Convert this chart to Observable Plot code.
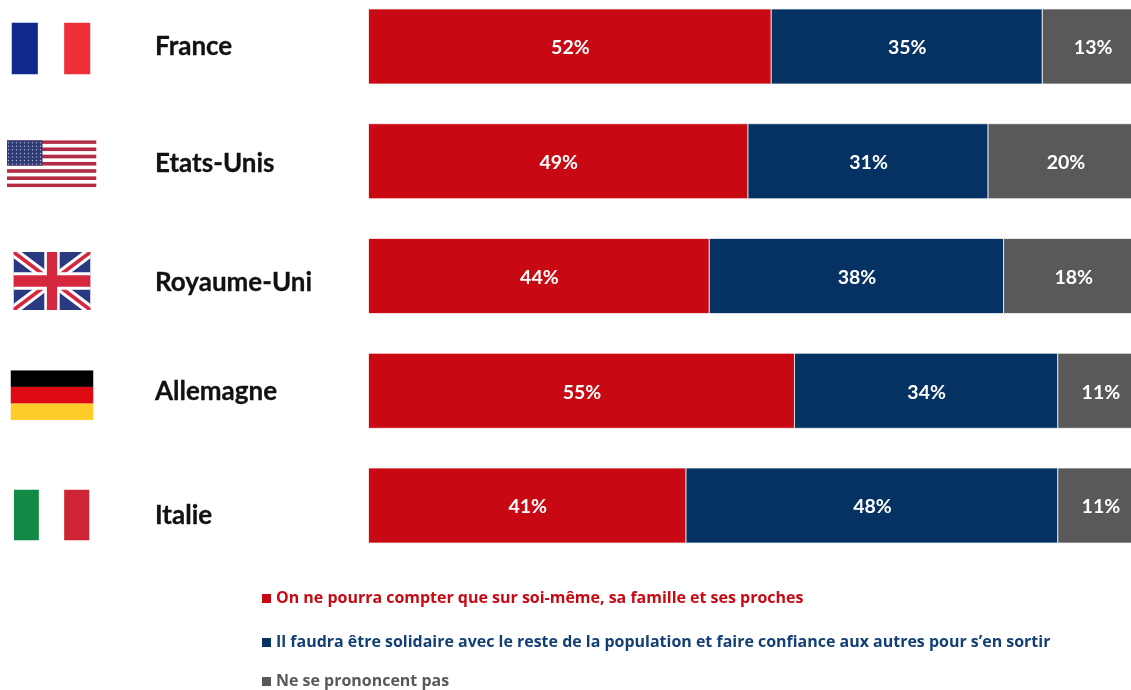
<!DOCTYPE html>
<html lang="fr">
<head>
<meta charset="utf-8">
<script src="https://cdn.jsdelivr.net/npm/d3@7"></script>
<script src="https://cdn.jsdelivr.net/npm/@observablehq/plot@0.6"></script>
<style>
html,body{margin:0;padding:0;background:#fff;width:1131px;height:690px;overflow:hidden}
#chart svg{display:block;filter:blur(.5px)}
#legend{position:absolute;left:0;top:575px;width:1131px;height:115px;overflow:hidden;filter:blur(.5px);font:700 15.97px "Open Sans",sans-serif}
#legend div{position:absolute;left:262px;white-space:nowrap;line-height:20px}
#legend i{display:inline-block;width:9px;height:9px;margin-right:5px}
</style>
</head>
<body>
<div id="chart"></div>
<div id="legend"></div>
<script>
const countries = ["France", "Etats-Unis", "Royaume-Uni", "Allemagne", "Italie"];
const seriesNames = [
  "On ne pourra compter que sur soi-même, sa famille et ses proches",
  "Il faudra être solidaire avec le reste de la population et faire confiance aux autres pour s’en sortir",
  "Ne se prononcent pas"
];
const selfReliance = [52, 49, 44, 55, 41];
const solidarity = [35, 31, 38, 34, 48];
const noOpinion = [13, 20, 18, 11, 11];
const seriesColors = ["#c80812", "#053262", "#595959"];

const seriesValues = [selfReliance, solidarity, noOpinion];
const rows = seriesNames.flatMap((series, s) =>
  countries.map((country, c) => ({country, series, value: seriesValues[s][c]})));

const svgUri = (w, h, body) => "data:image/svg+xml," + encodeURIComponent(
  `<svg xmlns="http://www.w3.org/2000/svg" viewBox="0 0 ${w} ${h}" preserveAspectRatio="none">${body}</svg>`);

const usStripes = d3.range(0, 13, 2).map(i => `<rect y="${i}" width="90" height="1" fill="#b22b43"/>`).join("");
const usStars = d3.range(0, 7).flatMap(r => d3.range(0, 9).map(c =>
  `<ellipse cx="${2 + c * 4.0}" cy="${0.7 + r * 0.98}" rx="0.75" ry="0.21" fill="#fff" opacity="0.6"/>`)).join("");
const flagImages = {
  "France": svgUri(3, 2, `<rect width="1" height="2" fill="#0f2a8c"/><rect x="2" width="1" height="2" fill="#ef2f38"/>`),
  "Etats-Unis": svgUri(90, 13, `<rect width="90" height="13" fill="#fff"/>${usStripes}<rect width="36" height="7" fill="#2c3a78"/>${usStars}`),
  "Royaume-Uni": svgUri(60, 40,
    `<rect width="60" height="40" fill="#2a3a80"/>
     <path d="M0 0L60 40M60 0L0 40" stroke="#fff" stroke-width="7"/>
     <path d="M0 0L60 40M60 0L0 40" stroke="#d5283f" stroke-width="2.6"/>
     <path d="M30 0V40M0 20H60" stroke="#fff" stroke-width="12"/>
     <path d="M30 0V40M0 20H60" stroke="#d5283f" stroke-width="8"/>`),
  "Allemagne": svgUri(5, 3, `<rect width="5" height="1" fill="#000"/><rect y="1" width="5" height="1" fill="#dd0a14"/><rect y="2" width="5" height="1" fill="#ffcc2b"/>`),
  "Italie": svgUri(3, 2, `<rect width="1" height="2" fill="#128a45"/><rect x="2" width="1" height="2" fill="#cd2533"/>`)
};

const flagMark = (country, cx, dy, w, h) => Plot.image([country], {
  y: d => d, src: d => flagImages[d], frameAnchor: "left",
  dx: cx, dy, width: w, height: h, preserveAspectRatio: "none"
});
const nameMark = (country, dy) => Plot.text([country], {
  y: d => d, text: d => d, frameAnchor: "left", textAnchor: "start",
  dx: 154.5, dy, fontSize: 26, fontWeight: 700, fontFamily: "Lato, sans-serif", fill: "#111",
  stroke: "#111", strokeWidth: 0.3
});

const plot = Plot.plot({
  width: 1131,
  height: 575,
  margin: 0,
  x: {domain: [0, 100], range: [368.5, 1143], axis: null},
  y: {domain: countries, range: [-30.75, 582.75], padding: 0.346, round: false, axis: null},
  color: {domain: seriesNames, range: seriesColors},
  marks: [
    Plot.barX(rows, {x: "value", y: "country", fill: "series", order: null, stroke: "#fff", strokeOpacity: 0.75, strokeWidth: 1, inset: 0}),
    Plot.text(rows, Plot.stackX({
      x: "value", y: "country", z: "series", order: null, dy: 1,
      text: d => d.value + "%", fill: "#fff", fontSize: 19.5, fontWeight: 700, fontFamily: "Lato, sans-serif"
    })),
    flagMark("France", 50.5, 1.5, 79, 52),
    flagMark("Etats-Unis", 51, 2, 90, 47),
    flagMark("Royaume-Uni", 51.5, 4.5, 77, 58),
    flagMark("Allemagne", 51.5, 4, 83, 50),
    flagMark("Italie", 51, 9, 76, 51),
    nameMark("France", -0.5),
    nameMark("Etats-Unis", 1.5),
    nameMark("Royaume-Uni", 6),
    nameMark("Allemagne", 0),
    nameMark("Italie", 9.5)
  ]
});
document.getElementById("chart").append(plot);

const legendRowTops = [11.5, 55.5, 95];
const legend = d3.select("#legend");
seriesNames.forEach((name, i) => {
  const row = legend.append("div").style("top", legendRowTops[i] + "px").style("color", seriesColors[i] === "#053262" ? "#123f74" : seriesColors[i]);
  row.append("i").style("background", seriesColors[i]);
  row.append("span").text(name);
});
</script>
</body>
</html>
